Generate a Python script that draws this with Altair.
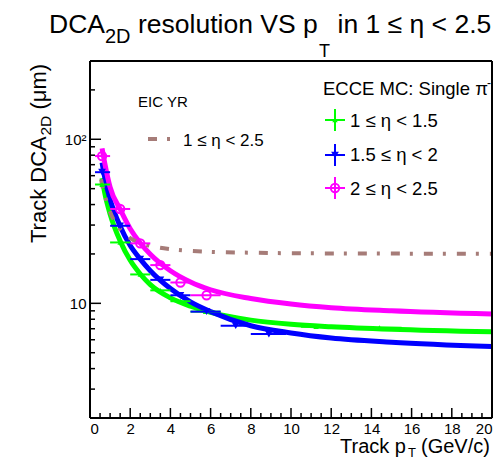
import altair as alt
import pandas as pd

# ---------------- data ----------------
pt_fit = [0.6, 0.75, 1.0, 1.5, 2.0, 2.5, 3.0, 4.0, 5.0, 6.0, 8.0, 10.0, 12.0, 15.0, 20.0]
green_fit = [58, 46, 35, 24.0, 18.3, 15.1, 13.0, 10.8, 9.6, 8.8, 7.9, 7.45, 7.2, 6.95, 6.7]
blue_fit = [72, 57, 43, 29.5, 22.5, 18.6, 15.8, 12.3, 10.2, 8.9, 7.3, 6.6, 6.15, 5.8, 5.45]
mag_fit = [88, 70, 51, 37.5, 28.5, 23.3, 19.9, 15.8, 13.5, 12.1, 10.7, 9.9, 9.4, 9.0, 8.6]

pt_yr = [0.55, 0.6, 0.75, 1.0, 1.25, 1.5, 2.0, 2.5, 3.0, 4.0, 5.0, 6.0, 8.0, 10.0, 12.0, 15.0, 20.0]
yr_val = [57, 53, 45, 36, 31.2, 28.3, 25, 23.3, 22.4, 21.4, 20.9, 20.6, 20.35, 20.2, 20.15, 20.1, 20.05]

green_pt = [0.6, 1.5, 2.5, 3.5, 4.5, 5.75, 11.25, 14.4]
green_val = [53, 23.5, 15.0, 12.0, 10.3, 8.9, 7.2, 7.1]
green_lo = [0.25, 1, 2, 3, 4, 5, 10.5, 13.5]
green_hi = [1, 2, 3, 4, 5, 6.5, 12, 15.5]

blue_pt = [0.6, 1.5, 2.5, 3.5, 4.5, 5.8, 7.25, 8.9]
blue_val = [63, 29.7, 18.6, 13.9, 11.2, 8.9, 7.3, 6.5]
blue_lo = [0.25, 1, 2, 3, 4, 5, 6.5, 8]
blue_hi = [1, 2, 3, 4, 5, 6.5, 8, 9.75]

mag_pt = [0.6, 1.5, 2.5, 3.5, 4.5, 5.8]
mag_val = [79, 37.6, 23.2, 17.1, 13.4, 11.2]
mag_lo = [0.25, 1, 2, 3, 4, 5]
mag_hi = [1, 2, 3, 4, 5, 6.5]

x_major = [0, 2, 4, 6, 8, 10, 12, 14, 16, 18, 20]
x_minor = [v / 2 for v in range(1, 40) if v % 4 != 0]
y_major = [10, 100]
y_minor = [2, 3, 4, 5, 6, 7, 8, 9, 20, 30, 40, 50, 60, 70, 80, 90, 200, 300]

GREEN, BLUE, MAG, BROWN = "#00ff00", "#0000ff", "#ff00ff", "#a67c78"
FONT = "Liberation Sans"
W, H = 402, 357

xs = alt.Scale(domain=[0, 20], nice=False, zero=False)
ys = alt.Scale(type="log", domain=[2, 300], nice=False)

# ---------------- frames ----------------
fit_df = pd.concat([
    pd.DataFrame({"pt": pt_fit, "v": green_fit, "s": "g"}),
    pd.DataFrame({"pt": pt_fit, "v": blue_fit, "s": "b"}),
    pd.DataFrame({"pt": pt_fit, "v": mag_fit, "s": "m"}),
])
cscale = alt.Scale(domain=["g", "b", "m"], range=[GREEN, BLUE, MAG])

base_x = alt.X("pt:Q", scale=xs, axis=alt.Axis(values=x_major, ticks=False, domain=False,
                                                 grid=False, labelPadding=3, labelFontSize=15,
                                                 labelFont=FONT, labelColor="black", title=None,
                                                 format="d"))
base_y = alt.Y("v:Q", scale=ys, axis=alt.Axis(values=y_major, ticks=False, domain=False,
                                                grid=False, labelPadding=4, labelFontSize=15,
                                                labelFont=FONT, labelColor="black", title=None,
                                                labelExpr="datum.value == 100 ? '10²' : '10'"))

fits = alt.Chart(fit_df).mark_line(strokeWidth=5, interpolate="monotone", clip=True).encode(
    x=base_x, y=base_y,
    color=alt.Color("s:N", scale=cscale, legend=None), detail="s:N")

yr = alt.Chart(pd.DataFrame({"pt": pt_yr, "v": yr_val})).mark_line(
    strokeWidth=4, interpolate="monotone", color=BROWN, strokeDash=[9, 10, 3, 11], clip=True
).encode(x=alt.X("pt:Q", scale=xs), y=alt.Y("v:Q", scale=ys))


def points(pt, val, lo, hi, color, shape, filled, size):
    df = pd.DataFrame({"pt": pt, "v": val, "lo": lo, "hi": hi})
    bars = alt.Chart(df).mark_rule(color=color, strokeWidth=2).encode(
        x=alt.X("lo:Q", scale=xs), x2="hi:Q", y=alt.Y("v:Q", scale=ys))
    mk = alt.Chart(df).mark_point(shape=shape, filled=filled, color=color, size=size,
                                  strokeWidth=2, opacity=1).encode(
        x=alt.X("pt:Q", scale=xs), y=alt.Y("v:Q", scale=ys))
    return bars + mk


gpts = points(green_pt, green_val, green_lo, green_hi, GREEN, "triangle-up", True, 30)
bpts = points(blue_pt, blue_val, blue_lo, blue_hi, BLUE, "triangle-down", True, 60)
mpts = points(mag_pt, mag_val, mag_lo, mag_hi, MAG, "circle", False, 70)

# inner ticks (ROOT style)
xt_major = alt.Chart(pd.DataFrame({"t": x_major})).mark_rule(color="black", strokeWidth=1.5).encode(
    x=alt.X("t:Q", scale=xs), y=alt.value(H), y2=alt.value(H - 10))
xt_minor = alt.Chart(pd.DataFrame({"t": x_minor})).mark_rule(color="black", strokeWidth=1.5).encode(
    x=alt.X("t:Q", scale=xs), y=alt.value(H), y2=alt.value(H - 5))
yt_major = alt.Chart(pd.DataFrame({"t": y_major})).mark_rule(color="black", strokeWidth=1.5).encode(
    y=alt.Y("t:Q", scale=ys), x=alt.value(0), x2=alt.value(11))
yt_minor = alt.Chart(pd.DataFrame({"t": y_minor})).mark_rule(color="black", strokeWidth=1.5).encode(
    y=alt.Y("t:Q", scale=ys), x=alt.value(0), x2=alt.value(5))

one = pd.DataFrame({"a": [0]})

frame = [
    alt.Chart(one).mark_rule(color="black", strokeWidth=2).encode(
        x=alt.value(0), x2=alt.value(W), y=alt.value(0)),
    alt.Chart(one).mark_rule(color="black", strokeWidth=2).encode(
        x=alt.value(0), x2=alt.value(W), y=alt.value(H)),
    alt.Chart(one).mark_rule(color="black", strokeWidth=2).encode(
        x=alt.value(0), y=alt.value(0), y2=alt.value(H)),
    alt.Chart(one).mark_rule(color="black", strokeWidth=2).encode(
        x=alt.value(W), y=alt.value(0), y2=alt.value(H)),
]


def txt(s, x, y, size, angle=0, align="left"):
    return alt.Chart(one).mark_text(text=s, font=FONT, fontSize=size, align=align,
                                    baseline="alphabetic", angle=angle, color="black").encode(
        x=alt.value(x), y=alt.value(y))


texts = [
    # title
    txt("DCA", -41, -28, 26.5),
    txt("2D", 15, -18, 20),
    txt("resolution VS p", 48, -28, 26.5),
    txt("T", 229, -4, 18),
    txt("in 1 ≤ η < 2.5", 247.5, -28, 26.5),
    # y title (rotated)
    txt("Track DCA", -44, 182, 22, angle=270),
    txt("2D", -39, 74.5, 15.5, angle=270),
    txt("(μm)", -44, 48.5, 22, angle=270),
    # x title
    txt("Track p", 250, 392, 20),
    txt("T", 318, 396, 13),
    txt("(GeV/c)", 331, 392, 20),
    # left legend
    txt("EIC YR", 48, 46, 15),
    txt("1 ≤ η < 2.5", 93, 85, 17),
    # right legend
    txt("ECCE MC: Single π", 233, 34, 18.5),
    txt("-", 397, 26, 12),
    txt("1 ≤ η < 1.5", 260, 66, 18.5),
    txt("1.5 ≤ η < 2", 260, 100, 18.5),
    txt("2 ≤ η < 2.5", 260, 134, 18.5),
]

leg_line = alt.Chart(one).mark_rule(color=BROWN, strokeWidth=4, strokeDash=[9, 10, 3, 11]).encode(
    x=alt.value(58), x2=alt.value(82), y=alt.value(78))

leg = []
for yy, col, shape, filled, size in [(59, GREEN, "triangle-up", True, 30),
                                     (94, BLUE, "triangle-down", True, 60),
                                     (127, MAG, "circle", False, 70)]:
    leg.append(alt.Chart(one).mark_rule(color=col, strokeWidth=2).encode(
        x=alt.value(235), x2=alt.value(255), y=alt.value(yy)))
    leg.append(alt.Chart(one).mark_rule(color=col, strokeWidth=2).encode(
        x=alt.value(245), y=alt.value(yy - 11), y2=alt.value(yy + 11)))
    leg.append(alt.Chart(one).mark_point(shape=shape, filled=filled, color=col, size=size,
                                         strokeWidth=2, opacity=1).encode(
        x=alt.value(245), y=alt.value(yy)))

chart = alt.layer(
    fits, yr, gpts, bpts, mpts, xt_major, xt_minor, yt_major, yt_minor, *frame,
    leg_line, *leg, *texts
).properties(
    width=W, height=H,
    autosize=alt.AutoSizeParams(type="none"),
    padding={"left": 82, "top": 53, "right": 1, "bottom": 42},
).configure_view(stroke="black", strokeWidth=2).configure(background="white")

chart.save("out.html", embed_options={"renderer": "svg", "actions": False})
